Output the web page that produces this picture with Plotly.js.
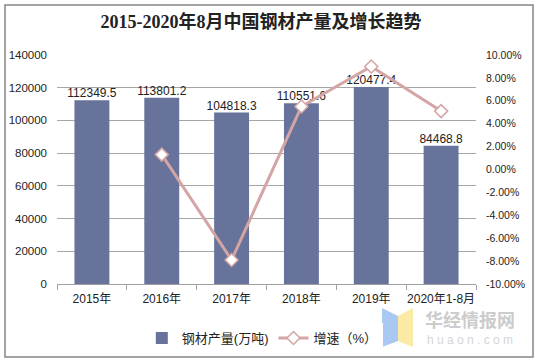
<!DOCTYPE html>
<html><head><meta charset="utf-8">
<script src="https://cdn.plot.ly/plotly-3.0.1.min.js"></script>
<style>html,body{margin:0;padding:0;background:#fff;}#chart{width:538px;height:361px;}</style>
</head><body><div id="chart"></div>
<script>
var categories = ['2015年','2016年','2017年','2018年','2019年','2020年1-8月'];
var output = [112349.5, 113801.2, 104818.3, 110551.6, 120477.4, 84468.8];
var growth = [null, 1.3, -7.9, 5.5, 9.0, 5.1];
var leftTicks = [0,20000,40000,60000,80000,100000,120000,140000];
var rightTicks = [-10,-8,-6,-4,-2,0,2,4,6,8,10];

var W=538,H=361,L=57,R=62,T=55,B=77;
var pw=W-L-R, ph=H-T-B;
function px(x){return (x-L)/pw;}
function py(y){return (H-B-y)/ph;}
function path(pts){return pts.map(function(p,i){return (i?'L':'M')+px(p[0])+','+py(p[1]);}).join(' ')+' Z';}

var fontS = 'Arial, "Liberation Sans", "Noto Sans CJK SC", sans-serif';
var data = [
 {type:'bar', x:categories, y:output, name:'钢材产量(万吨)', marker:{color:'#67739a'}, hoverinfo:'skip'},
 {type:'scatter', mode:'text', x:categories, y:output, text:output.map(function(v){return v.toFixed(1);}),
  textposition:'top center', textfont:{family:fontS,size:12,color:'#222'}, showlegend:false, cliponaxis:false, hoverinfo:'skip'},
 {type:'scatter', mode:'lines+markers', x:categories, y:growth, yaxis:'y2', name:'增速（%）',
  line:{color:'#d3a5a4',width:3}, connectgaps:false,
  marker:{symbol:'diamond',size:10,color:'#ffffff',line:{color:'#d3a5a4',width:1.5}}, hoverinfo:'skip'}
];
var layout = {
 width:W,height:H, margin:{l:L,r:R,t:T,b:B,autoexpand:false}, paper_bgcolor:'#fff', plot_bgcolor:'#fff',
 title:{text:'<b>2015-2020年8月中国钢材产量及增长趋势</b>', x:262/W, xref:'paper', xanchor:'center', y:1-22/H, yanchor:'middle',
   font:{family:'"Liberation Serif", "DejaVu Serif", "Noto Sans CJK SC", serif', size:18, color:'#222'}},
 bargap:0.5, showlegend:true,
 legend:{orientation:'h', x:0.49, xanchor:'center', y:py(338), yanchor:'middle', font:{family:fontS,size:13,color:'#222'}, traceorder:'normal'},
 xaxis:{type:'category', showline:true, linecolor:'#a0a0a0', linewidth:1, ticks:'outside', tickson:'boundaries', ticklen:5, tickcolor:'#a0a0a0',
   tickangle:0, tickfont:{family:fontS,size:12,color:'#222'}, ticklabelstandoff:4, showgrid:false, fixedrange:true, automargin:false},
 yaxis:{range:[0,140000], tickvals:leftTicks, ticktext:leftTicks.map(String), showgrid:true, gridcolor:'#a6a6a6', gridwidth:1, zeroline:false,
   showline:false, ticks:'', tickfont:{family:fontS,size:11.5,color:'#222'}, ticklabelstandoff:9, automargin:false},
 yaxis2:{overlaying:'y', side:'right', range:[-10,10], tickvals:rightTicks, ticktext:rightTicks.map(function(v){return v.toFixed(2)+'%';}),
   showgrid:false, zeroline:false, showline:false, ticks:'', tickfont:{family:fontS,size:10.5,color:'#222'}, ticklabelstandoff:9, automargin:false},
 shapes:[
  {type:'rect', xref:'paper', yref:'paper', x0:px(5), x1:px(533), y0:py(357), y1:py(5), line:{color:'#858585',width:1.5}, layer:'below'},
  {type:'path', xref:'paper', yref:'paper', path:path([[382,308],[398,316],[398,341],[382,347]]), fillcolor:'#a9c9f2', line:{width:0}},
  {type:'path', xref:'paper', yref:'paper', path:path([[398,316],[413,308],[413,347],[398,341]]), fillcolor:'#fbeaa5', line:{width:0}}
 ],
 annotations:[
  {text:'<b>华经情报网</b>', xref:'paper', yref:'paper', x:px(470), y:py(318.5), xanchor:'center', yanchor:'middle', showarrow:false, font:{family:'"Noto Sans CJK SC", sans-serif', size:18, color:'#cccccc'}},
  {text:'h u a o n . c o m', xref:'paper', yref:'paper', x:px(470), y:py(340), xanchor:'center', yanchor:'middle', showarrow:false, font:{family:fontS, size:12, color:'#d5d5d5'}}
 ]
};
Plotly.newPlot('chart', data, layout, {displayModeBar:false, staticPlot:true});
</script></body></html>
